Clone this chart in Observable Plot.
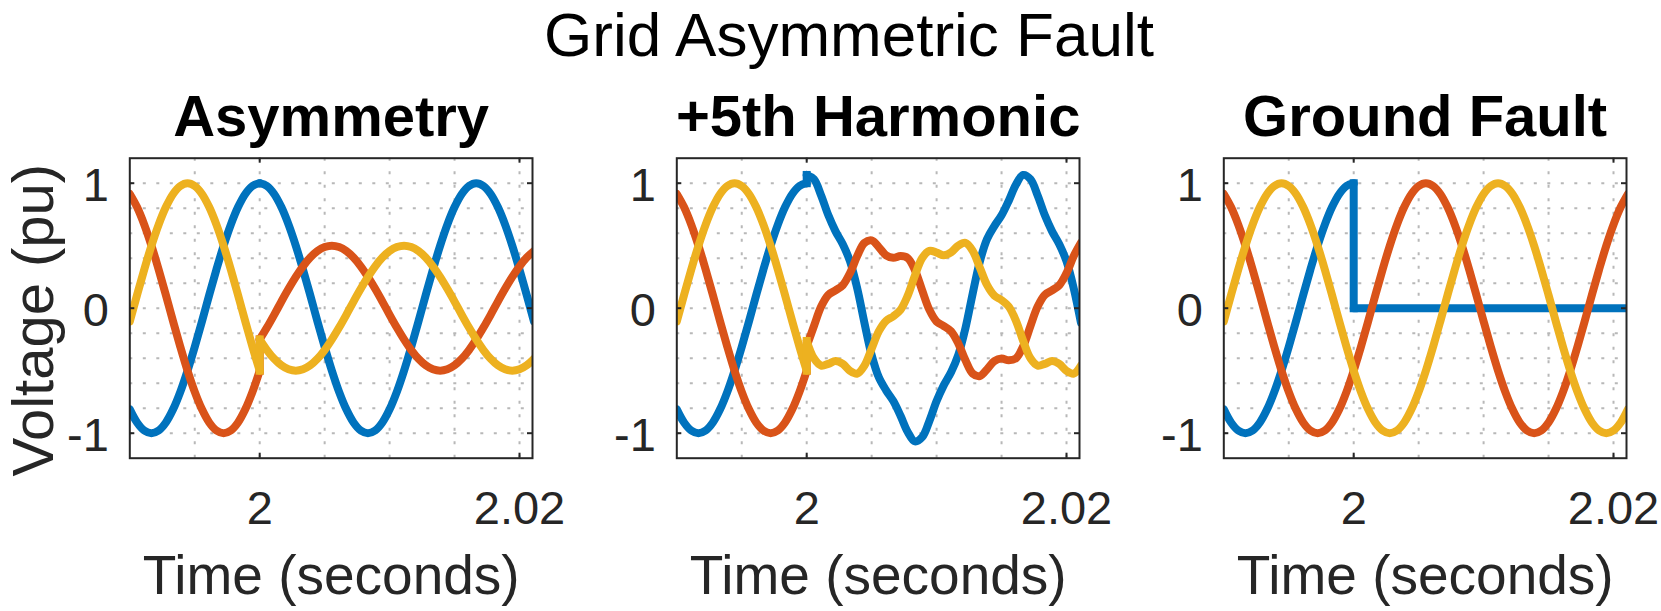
<!DOCTYPE html>
<html>
<head>
<meta charset="utf-8">
<script src="https://cdn.jsdelivr.net/npm/d3@7"></script>
<script src="https://cdn.jsdelivr.net/npm/@observablehq/plot@0.6"></script>
<style>
  html, body { margin: 0; padding: 0; background: #fff; }
  body { width: 1661px; height: 611px; overflow: hidden; font-family: "Liberation Sans", Arial, Helvetica, sans-serif; }
  #wrap { position: relative; width: 1661px; height: 611px; }
  .panel { position: absolute; top: 0; width: 547px; height: 611px; }
  .panel svg { max-width: none; overflow: visible; background: transparent; }
  #title { position: absolute; left: 849px; top: 4px; transform: translateX(-50%); white-space: nowrap;
           font-size: 62px; line-height: 62px; color: #000; }
</style>
</head>
<body>
<div id="wrap"></div>
<script>
// ---------- data ----------
const chartTitle = "Grid Asymmetric Fault";
const panelTitles = ["Asymmetry", "+5th Harmonic", "Ground Fault"];
const xLabel = "Time (seconds)";
const yLabel = "Voltage (pu)";
const seriesNames = ["Phase A", "Phase B", "Phase C"];
const seriesColors = ["#0072BD", "#D95319", "#EDB120"];

const xTicks = [2, 2.02];
const xTickLabels = ["2", "2.02"];
const yTicks = [-1, 0, 1];
const yTickLabels = ["-1", "0", "1"];
const xGrid = [1.995, 2.0, 2.005, 2.01, 2.015, 2.02];
const yGrid = [-1, -0.8, -0.6, -0.4, -0.2, 0, 0.2, 0.4, 0.6, 0.8, 1];

// sample times (s)
const time = [1.990000, 1.990556, 1.991111, 1.991667, 1.992222, 1.992778, 1.993333, 1.993889, 1.994444, 1.995000,
  1.995556, 1.996111, 1.996667, 1.997222, 1.997778, 1.998333, 1.998889, 1.999444, 2.000000, 2.000556,
  2.001111, 2.001667, 2.002222, 2.002778, 2.003333, 2.003889, 2.004444, 2.005000, 2.005556, 2.006111,
  2.006667, 2.007222, 2.007778, 2.008333, 2.008889, 2.009444, 2.010000, 2.010556, 2.011111, 2.011667,
  2.012222, 2.012778, 2.013333, 2.013889, 2.014444, 2.015000, 2.015556, 2.016111, 2.016667, 2.017222,
  2.017778, 2.018333, 2.018889, 2.019444, 2.020000, 2.020556, 2.021111];
const faultTime = 2.0;

// healthy three-phase voltages (pu)
const phaseA = [-0.809, -0.914, -0.978, -1, -0.978, -0.914, -0.809, -0.669, -0.5, -0.309,
  -0.105, 0.105, 0.309, 0.5, 0.669, 0.809, 0.914, 0.978, 1, 0.978,
  0.914, 0.809, 0.669, 0.5, 0.309, 0.105, -0.105, -0.309, -0.5, -0.669,
  -0.809, -0.914, -0.978, -1, -0.978, -0.914, -0.809, -0.669, -0.5, -0.309,
  -0.105, 0.105, 0.309, 0.5, 0.669, 0.809, 0.914, 0.978, 1, 0.978,
  0.914, 0.809, 0.669, 0.5, 0.309, 0.105, -0.105];
const phaseB = [0.914, 0.809, 0.669, 0.5, 0.309, 0.105, -0.105, -0.309, -0.5, -0.669,
  -0.809, -0.914, -0.978, -1, -0.978, -0.914, -0.809, -0.669, -0.5, -0.309,
  -0.105, 0.105, 0.309, 0.5, 0.669, 0.809, 0.914, 0.978, 1, 0.978,
  0.914, 0.809, 0.669, 0.5, 0.309, 0.105, -0.105, -0.309, -0.5, -0.669,
  -0.809, -0.914, -0.978, -1, -0.978, -0.914, -0.809, -0.669, -0.5, -0.309,
  -0.105, 0.105, 0.309, 0.5, 0.669, 0.809, 0.914];
const phaseC = [-0.105, 0.105, 0.309, 0.5, 0.669, 0.809, 0.914, 0.978, 1, 0.978,
  0.914, 0.809, 0.669, 0.5, 0.309, 0.105, -0.105, -0.309, -0.5, -0.669,
  -0.809, -0.914, -0.978, -1, -0.978, -0.914, -0.809, -0.669, -0.5, -0.309,
  -0.105, 0.105, 0.309, 0.5, 0.669, 0.809, 0.914, 0.978, 1, 0.978,
  0.914, 0.809, 0.669, 0.5, 0.309, 0.105, -0.105, -0.309, -0.5, -0.669,
  -0.809, -0.914, -0.978, -1, -0.978, -0.914, -0.809];

// post-fault values (from t = 2.0 onward)
const asymB = [-0.25, -0.155, -0.053, 0.053, 0.155, 0.25, 0.335, 0.405, 0.457, 0.489,
  0.5, 0.489, 0.457, 0.405, 0.335, 0.25, 0.155, 0.053, -0.053, -0.155,
  -0.25, -0.335, -0.405, -0.457, -0.489, -0.5, -0.489, -0.457, -0.405, -0.335,
  -0.25, -0.155, -0.053, 0.053, 0.155, 0.25, 0.335, 0.405, 0.457];
const asymC = [-0.25, -0.335, -0.405, -0.457, -0.489, -0.5, -0.489, -0.457, -0.405, -0.335,
  -0.25, -0.155, -0.053, 0.053, 0.155, 0.25, 0.335, 0.405, 0.457, 0.489,
  0.5, 0.489, 0.457, 0.405, 0.335, 0.25, 0.155, 0.053, -0.053, -0.155,
  -0.25, -0.335, -0.405, -0.457, -0.489, -0.5, -0.489, -0.457, -0.405];
const harmA = [1.066, 1.032, 0.902, 0.743, 0.615, 0.512, 0.375, 0.159, -0.117, -0.375,
  -0.554, -0.657, -0.743, -0.860, -0.990, -1.066, -1.032, -0.902, -0.743, -0.615,
  -0.512, -0.375, -0.159, 0.117, 0.375, 0.554, 0.657, 0.743, 0.860, 0.990,
  1.066, 1.032, 0.902, 0.743, 0.615, 0.512, 0.375, 0.159, -0.117];
const harmB = [-0.304, -0.143, 0.013, 0.107, 0.143, 0.184, 0.281, 0.417, 0.523, 0.543,
  0.488, 0.423, 0.403, 0.417, 0.401, 0.304, 0.143, -0.013, -0.107, -0.143,
  -0.184, -0.281, -0.417, -0.523, -0.543, -0.488, -0.423, -0.403, -0.417, -0.401,
  -0.304, -0.143, 0.013, 0.107, 0.143, 0.184, 0.281, 0.417, 0.523];
const harmC = [-0.262, -0.401, -0.459, -0.445, -0.423, -0.446, -0.501, -0.523, -0.459, -0.323,
  -0.184, -0.101, -0.065, -0.013, 0.101, 0.262, 0.401, 0.459, 0.445, 0.423,
  0.446, 0.501, 0.523, 0.459, 0.323, 0.184, 0.101, 0.065, 0.013, -0.101,
  -0.262, -0.401, -0.459, -0.445, -0.423, -0.446, -0.501, -0.523, -0.459];
const groundA = [0, 0, 0, 0, 0, 0, 0, 0, 0, 0,
  0, 0, 0, 0, 0, 0, 0, 0, 0, 0,
  0, 0, 0, 0, 0, 0, 0, 0, 0, 0,
  0, 0, 0, 0, 0, 0, 0, 0, 0];

// ---------- build ----------
const fi = time.indexOf(faultTime);
const preTime = time.slice(0, fi + 1);
const postTime = time.slice(fi);
const pre = [phaseA, phaseB, phaseC].map(a => a.slice(0, fi + 1));
const postSets = [
  [phaseA.slice(fi), asymB, asymC],
  [harmA, harmB, harmC],
  [groundA, phaseB.slice(fi), phaseC.slice(fi)]
];

const FONT = '"Liberation Sans", Arial, Helvetica, sans-serif';
const W = 547, H = 611;
const mL = 129.3, mR = 15, mT = 157.7, mB = 153.3;
const fw = W - mL - mR, fh = H - mT - mB;
const panelLefts = [0, 546.7, 1093.8];
const LW = 8;
const gridStyle = {stroke: "#b8b8b8", strokeWidth: 2, strokeDasharray: "3,10.5"};
const axisColor = "#262626";

const wrap = document.getElementById("wrap");

panelTitles.forEach((ttl, p) => {
  const marks = [];
  marks.push(Plot.ruleX(xGrid, {x: d => d, ...gridStyle}));
  marks.push(Plot.ruleY(yGrid, {y: d => d, ...gridStyle}));
  seriesNames.forEach((s, si) => {
    const postVals = postSets[p][si];
    const rows = preTime.map((t, i) => ({t, v: pre[si][i], seg: "pre"}))
      .concat(postTime.map((t, i) => ({t, v: postVals[i], seg: "post"})));
    marks.push(Plot.line(rows, {x: "t", y: "v", z: "seg", stroke: seriesColors[si], strokeWidth: LW,
      curve: "catmull-rom", strokeLinecap: "round", strokeLinejoin: "round", clip: true}));
    const from = pre[si][pre[si].length - 1], to = postVals[0];
    if (from !== to) {
      marks.push(Plot.link([{t: faultTime, from, to}], {x1: "t", x2: "t", y1: "from", y2: "to",
        stroke: seriesColors[si], strokeWidth: LW, strokeLinecap: "square"}));
    }
  });
  marks.push(Plot.frame({stroke: axisColor, strokeWidth: 2}));
  // inward ticks (box style)
  marks.push(Plot.ruleX(xTicks, {x: d => d, insetTop: fh - 5, stroke: axisColor, strokeWidth: 2}));
  marks.push(Plot.ruleX(xTicks, {x: d => d, insetBottom: fh - 5, stroke: axisColor, strokeWidth: 2}));
  marks.push(Plot.ruleY(yTicks, {y: d => d, insetRight: fw - 5, stroke: axisColor, strokeWidth: 2}));
  marks.push(Plot.ruleY(yTicks, {y: d => d, insetLeft: fw - 5, stroke: axisColor, strokeWidth: 2}));
  // tick labels
  marks.push(Plot.text(xTicks, {x: d => d, text: (d, i) => xTickLabels[i], frameAnchor: "bottom",
    lineAnchor: "bottom", textAnchor: "middle", dy: 65.6, fontSize: 47, fill: axisColor}));
  marks.push(Plot.text(yTicks, {y: d => d, text: (d, i) => yTickLabels[i], frameAnchor: "left",
    lineAnchor: "bottom", textAnchor: "end", dx: -21, dy: 17.3, fontSize: 47, fill: axisColor}));
  // titles & labels
  marks.push(Plot.text([ttl], {frameAnchor: "top", lineAnchor: "bottom", textAnchor: "middle", dy: -22.7,
    fontSize: 58, fontWeight: "bold", fill: "#000"}));
  marks.push(Plot.text([xLabel], {frameAnchor: "bottom", lineAnchor: "bottom", textAnchor: "middle", dy: 135.6,
    fontSize: 55, fill: axisColor}));
  if (p === 0) {
    marks.push(Plot.text([yLabel], {frameAnchor: "left", rotate: -90, lineAnchor: "bottom", textAnchor: "middle",
      dx: -(mL - 52.5), dy: 12, fontSize: 58, fill: axisColor}));
  }
  const chart = Plot.plot({
    width: W, height: H,
    marginLeft: mL, marginRight: mR, marginTop: mT, marginBottom: mB,
    x: {domain: [1.99, 2.021], axis: null},
    y: {domain: [-1.2, 1.2], axis: null},
    style: {fontFamily: FONT, background: "transparent", overflow: "visible"},
    marks
  });
  const div = document.createElement("div");
  div.className = "panel";
  div.style.left = panelLefts[p] + "px";
  div.appendChild(chart);
  wrap.appendChild(div);
});

const titleDiv = document.createElement("div");
titleDiv.id = "title";
titleDiv.textContent = chartTitle;
wrap.appendChild(titleDiv);
</script>
</body>
</html>
